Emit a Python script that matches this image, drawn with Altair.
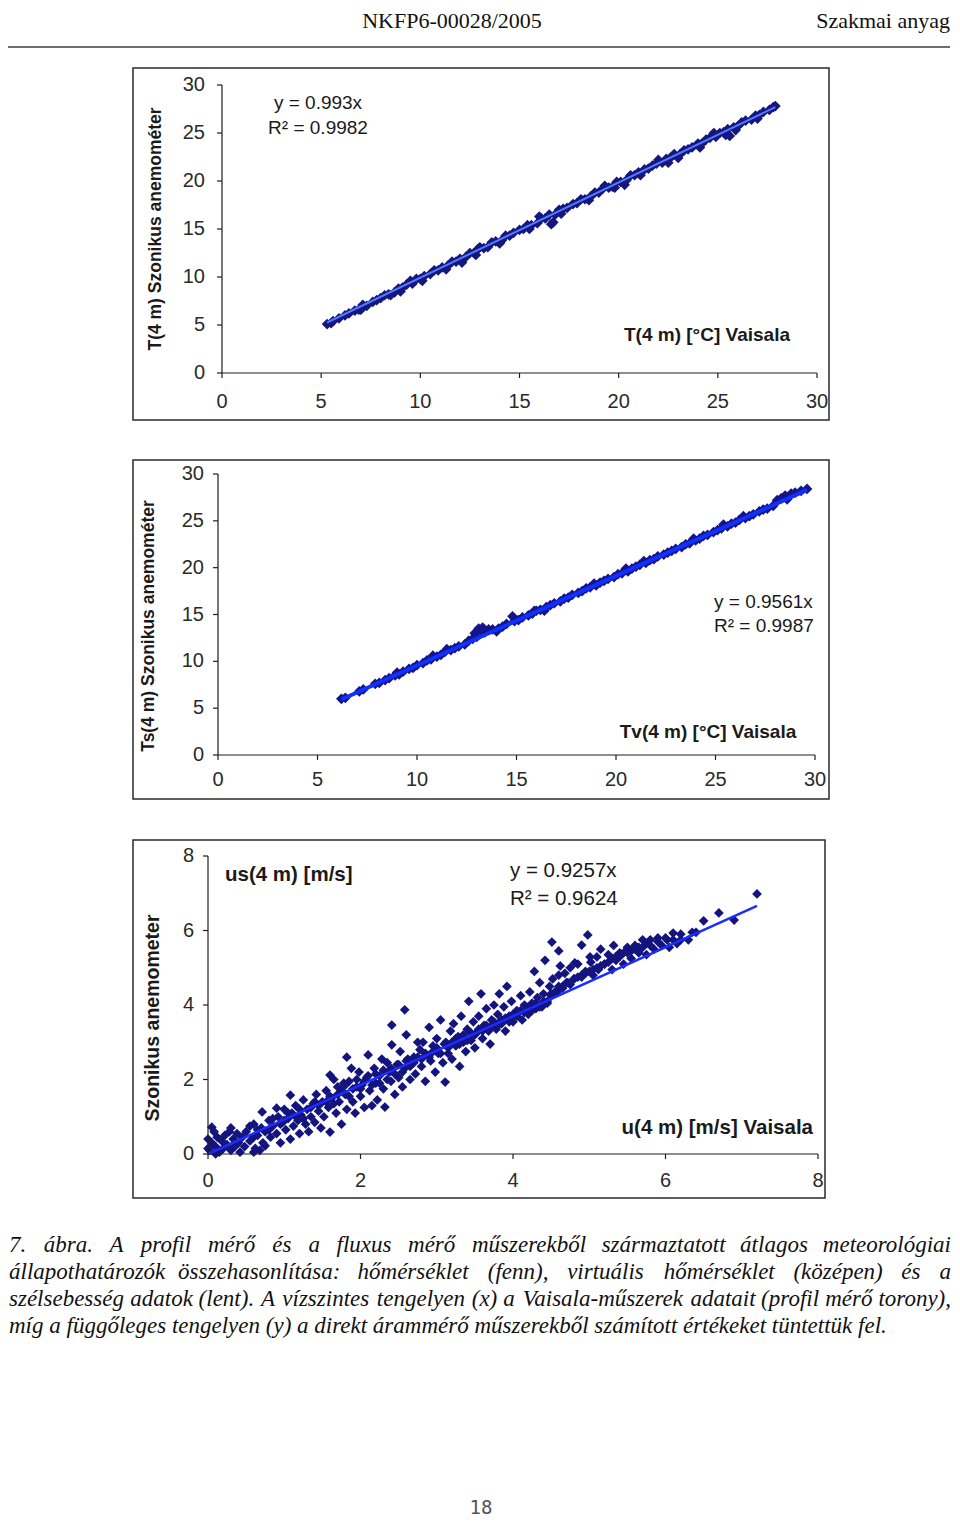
import unicodedata
import altair as alt
import pandas as pd

# ---------------- data ----------------
header_left = "NKFP6-00028/2005"
header_right = "Szakmai anyag"
page_number = "18"

temp_ticks = [0, 5, 10, 15, 20, 25, 30]
wind_ticks = [0, 2, 4, 6, 8]

# Panel 1: T(4 m) Vaisala (x) vs sonic (y)
t_pairs = [
    (5.3, 5.1), (5.5, 5.2), (5.6, 5.4), (5.9, 5.7), (6.2, 6.0), (6.4, 6.2), (6.7, 6.5), (6.9, 6.6),
    (7.1, 7.1), (7.3, 7.0), (7.6, 7.4), (7.8, 7.6), (8.0, 7.8), (8.2, 8.1), (8.4, 8.2), (8.7, 8.4),
    (8.9, 8.8), (9.0, 8.5), (9.1, 8.9), (9.3, 9.2), (9.6, 9.3), (9.8, 9.8), (10.0, 9.8), (10.2, 10.1),
    (10.5, 10.3), (10.7, 10.7), (10.9, 10.7), (11.1, 11.0), (11.4, 11.2), (11.6, 11.6), (11.8, 11.6),
    (12.0, 11.9), (12.1, 11.5), (12.3, 12.1), (12.5, 12.5), (12.7, 12.5), (12.9, 12.9), (13.2, 13.0),
    (13.4, 13.1), (13.6, 13.6), (13.8, 13.7), (14.1, 13.8), (14.3, 14.3), (14.5, 14.3), (14.7, 14.6),
    (15.0, 14.9), (15.2, 15.0), (15.4, 15.4), (15.6, 15.4), (15.9, 15.6), (16.1, 16.1), (16.3, 16.1),
    (16.5, 16.5), (16.6, 15.5), (16.7, 15.7), (16.8, 16.5), (17.0, 17.0), (17.2, 17.1), (17.4, 17.2),
    (17.7, 17.6), (17.9, 17.7), (18.1, 18.1), (18.3, 18.1), (18.6, 18.4), (18.8, 18.8), (19.0, 18.8),
    (19.2, 19.2), (19.5, 19.3), (19.7, 19.4), (19.9, 19.9), (20.1, 19.9), (20.3, 19.6), (20.4, 20.1),
    (20.6, 20.6), (20.8, 20.6), (21.0, 20.9), (21.3, 21.2), (21.5, 21.3), (21.7, 21.6), (21.9, 21.8),
    (22.2, 21.9), (22.4, 22.3), (22.6, 22.4), (22.8, 22.8), (23.0, 22.4), (23.1, 22.8), (23.3, 23.2),
    (23.5, 23.3), (23.7, 23.5), (24.0, 23.9), (24.2, 23.9), (24.4, 24.3), (24.6, 24.5), (24.9, 24.6),
    (25.1, 25.0), (25.3, 25.1), (25.4, 24.8), (25.5, 25.4), (25.6, 24.7), (25.8, 25.6), (26.0, 25.7),
    (26.2, 26.1), (26.4, 26.3), (26.7, 26.4), (26.9, 26.8), (27.1, 26.9), (27.3, 27.2), (27.6, 27.4),
    (27.8, 27.7), (27.9, 27.8),
    # scatter just below / above the main band
    (7.0, 6.6), (8.5, 8.1), (10.1, 9.6), (11.3, 10.8), (12.8, 12.3), (14.0, 13.5), (15.5, 15.0),
    (17.1, 16.6), (18.5, 18.0), (19.8, 19.3), (21.1, 20.6), (22.5, 21.9), (24.1, 23.5), (25.9, 25.3),
    (27.0, 26.5), (9.5, 9.6), (13.0, 13.1), (16.0, 16.3), (19.3, 19.5), (22.0, 22.2), (24.8, 25.0),
]
t_fit_x = [5.3, 27.9]
t_fit_y = [5.26, 27.7]

# Panel 2: Tv(4 m) Vaisala (x) vs Ts sonic (y)
tv_pairs = [
    (6.2, 6.0), (6.4, 6.1), (7.1, 6.8), (7.3, 7.0), (7.9, 7.6), (8.1, 7.7), (8.4, 8.0), (8.6, 8.2),
    (8.9, 8.5), (9.1, 8.6), (9.3, 8.9), (9.6, 9.2), (9.8, 9.3), (10.0, 9.6), (10.3, 9.8), (10.5, 10.1),
    (10.7, 10.2), (11.0, 10.5), (11.2, 10.7), (11.4, 11.0), (11.7, 11.2), (11.9, 11.4), (12.1, 11.6),
    (12.4, 11.8), (12.6, 12.2), (12.8, 12.4), (12.9, 13.0), (13.0, 12.6), (13.1, 13.5), (13.2, 13.3),
    (13.4, 13.1), (13.6, 13.4), (13.8, 13.4), (14.1, 13.5), (14.3, 13.7), (14.5, 14.0), (14.8, 14.8),
    (14.9, 14.3), (15.1, 14.4), (15.3, 14.7), (15.6, 14.9), (15.8, 15.1), (16.0, 15.4), (16.2, 15.5),
    (16.5, 15.8), (16.7, 16.0), (16.9, 16.2), (17.2, 16.4), (17.4, 16.7), (17.6, 16.8), (17.8, 17.1),
    (18.1, 17.3), (18.3, 17.5), (18.5, 17.8), (18.7, 17.9), (19.0, 18.1), (19.2, 18.4), (19.4, 18.6),
    (19.6, 18.8), (19.9, 19.0), (20.1, 19.3), (20.3, 19.4), (20.6, 19.6), (20.8, 19.9), (21.0, 20.1),
    (21.2, 20.3), (21.5, 20.5), (21.7, 20.8), (21.9, 20.9), (22.1, 21.2), (22.4, 21.4), (22.6, 21.6),
    (22.8, 21.8), (23.0, 22.0), (23.3, 22.2), (23.5, 22.5), (23.7, 22.6), (24.0, 22.9), (24.2, 23.1),
    (24.4, 23.4), (24.6, 23.5), (24.9, 23.8), (25.1, 24.0), (25.3, 24.2), (25.6, 24.4), (25.8, 24.7),
    (26.0, 24.8), (26.2, 25.1), (26.5, 25.3), (26.7, 25.5), (26.9, 25.7), (27.2, 26.0), (27.4, 26.2),
    (27.6, 26.3), (27.9, 26.6), (28.1, 27.2), (28.3, 27.4), (28.5, 27.7), (28.8, 27.9), (29.0, 28.0),
    (29.3, 28.2), (29.6, 28.4),
    # scatter just off the main band
    (9.0, 8.8), (11.5, 11.3), (14.0, 13.2), (16.4, 15.4), (18.9, 18.3), (21.4, 20.7), (23.9, 23.1),
    (26.4, 25.5), (10.8, 10.6), (13.3, 13.6), (15.9, 15.4), (20.5, 19.9), (25.4, 24.6), (28.6, 27.3),
]
tv_fit_x = [6.2, 29.6]
tv_fit_y = [5.93, 28.3]

# Panel 3: u(4 m) Vaisala (x) vs sonic wind speed (y)
u_pairs = [
    (0.02, 0.1), (0.05, 0.3), (0.08, 0.6), (0.1, 0.2), (0.12, 0.45), (0.15, 0.05), (0.18, 0.35),
    (0.2, 0.15), (0.22, 0.5), (0.25, 0.25), (0.28, 0.6), (0.3, 0.1), (0.33, 0.4), (0.35, 0.2),
    (0.38, 0.55), (0.4, 0.3), (0.42, 0.05), (0.45, 0.45), (0.48, 0.2), (0.5, 0.6), (0.05, 0.72),
    (0.0, 0.4), (0.0, 0.15), (0.1, 0.0), (0.3, 0.7), (0.6, 0.05), (0.68, 0.1), (0.75, 0.22),
    (0.55, 0.75), (0.65, 0.65),
    (0.55, 0.35), (0.6, 0.8), (0.62, 0.15), (0.65, 0.5), (0.71, 1.13), (0.72, 0.3), (0.75, 0.6),
    (0.8, 0.9), (0.82, 0.45), (0.85, 0.75), (0.9, 1.23), (0.9, 0.55), (0.92, 1.0), (0.95, 0.3),
    (0.98, 0.85), (1.0, 1.2), (1.02, 0.65), (1.05, 0.95), (1.08, 1.58), (1.08, 0.4), (1.1, 1.1),
    (1.12, 0.75), (1.15, 1.3), (1.18, 0.9), (1.2, 0.55), (1.22, 1.05), (1.25, 1.45), (1.28, 0.8),
    (1.3, 1.2), (1.32, 0.6), (1.35, 1.0), (1.38, 1.35), (1.4, 0.85), (1.42, 1.6), (1.45, 1.15),
    (1.48, 0.7), (1.5, 1.4),
    (1.52, 1.0), (1.55, 1.7), (1.58, 1.25), (1.6, 0.59), (1.6, 2.12), (1.62, 1.5), (1.65, 2.0),
    (1.68, 1.1), (1.7, 1.8), (1.72, 1.4), (1.75, 0.8), (1.78, 1.9), (1.8, 1.6), (1.82, 2.6),
    (1.82, 1.2), (1.85, 1.95), (1.88, 2.3), (1.9, 1.4), (1.93, 1.1), (1.95, 1.8), (1.98, 2.2),
    (2.0, 1.55), (2.02, 1.85), (2.05, 1.25), (2.08, 2.05), (2.1, 2.66), (2.12, 1.7), (2.15, 1.3),
    (2.18, 2.3), (2.2, 1.9), (2.22, 1.45), (2.25, 2.1), (2.28, 2.55), (2.3, 1.75), (2.32, 1.26),
    (2.35, 2.45), (2.38, 2.2), (2.4, 1.95), (2.41, 2.93), (2.41, 3.46), (2.45, 1.6), (2.48, 2.4),
    (2.5, 2.05),
    (2.52, 2.75), (2.55, 1.8), (2.58, 3.87), (2.58, 2.3), (2.6, 3.2), (2.62, 2.55), (2.65, 2.0),
    (2.7, 2.6), (2.72, 2.15), (2.75, 3.0), (2.78, 2.8), (2.8, 2.35), (2.82, 3.0), (2.85, 1.95),
    (2.88, 2.65), (2.9, 3.4), (2.92, 2.5), (2.95, 2.9), (2.98, 2.2), (3.0, 3.1), (3.02, 2.7),
    (3.05, 3.6), (3.08, 2.45), (3.11, 1.93), (3.12, 3.0), (3.15, 2.7), (3.18, 3.3), (3.2, 2.55),
    (3.22, 3.5), (3.25, 2.9), (3.28, 3.15), (3.3, 2.35), (3.32, 3.7), (3.35, 3.0), (3.38, 2.75),
    (3.4, 3.35), (3.42, 4.1), (3.45, 3.05), (3.48, 3.55), (3.5, 2.85),
    (3.52, 3.25), (3.55, 3.7), (3.58, 4.3), (3.6, 3.1), (3.62, 3.45), (3.65, 3.9), (3.68, 3.3),
    (3.7, 2.95), (3.72, 3.6), (3.75, 4.0), (3.78, 3.35), (3.8, 3.75), (3.82, 4.3), (3.85, 3.5),
    (3.88, 3.95), (3.9, 3.3), (3.92, 4.5), (3.95, 3.7), (3.98, 4.1), (4.0, 3.55), (4.05, 3.85),
    (4.1, 4.25), (4.12, 3.6), (4.15, 4.0), (4.2, 3.75), (4.22, 4.35), (4.25, 4.05), (4.28, 4.9),
    (4.3, 3.9), (4.32, 4.2), (4.35, 4.6), (4.38, 3.95), (4.4, 4.3), (4.42, 5.2), (4.45, 4.1),
    (4.48, 4.5), (4.5, 4.25),
    (4.51, 5.69), (4.52, 4.7), (4.58, 4.35), (4.6, 5.45), (4.6, 4.8), (4.62, 5.05), (4.65, 4.5),
    (4.68, 4.85), (4.72, 4.6), (4.75, 5.0), (4.8, 4.7), (4.81, 5.13), (4.85, 5.1), (4.9, 5.61),
    (4.9, 4.75), (4.95, 4.9), (4.98, 5.88), (5.01, 5.29), (5.02, 5.15), (5.05, 4.8), (5.1, 5.29),
    (5.12, 4.95), (5.15, 5.5), (5.2, 5.1), (5.25, 5.35), (5.3, 4.95), (5.32, 5.6), (5.35, 5.2),
    (5.4, 5.4), (5.45, 5.1), (5.5, 5.55),
    (5.55, 5.25), (5.6, 5.6), (5.65, 5.4), (5.7, 5.75), (5.75, 5.35), (5.8, 5.75), (5.85, 5.5),
    (5.9, 5.8), (5.95, 5.6), (6.02, 5.75), (6.05, 5.55), (6.1, 5.93), (6.15, 5.65), (6.2, 5.75),
    (6.3, 5.75), (6.4, 5.95), (6.5, 6.26), (6.7, 6.47), (6.9, 6.28), (7.2, 6.98),
    # dense core along the regression line
    (0.6, 0.45), (0.7, 0.7), (0.8, 0.65), (0.85, 0.95), (0.95, 0.8), (1.0, 0.9), (1.05, 1.1),
    (1.15, 1.0), (1.2, 1.2), (1.25, 0.95), (1.35, 1.25), (1.4, 1.4), (1.45, 1.3), (1.55, 1.4),
    (1.6, 1.55), (1.65, 1.35), (1.7, 1.6), (1.75, 1.7), (1.8, 1.85), (1.85, 1.55), (1.9, 1.75),
    (1.95, 2.0), (2.0, 1.75), (2.05, 1.95), (2.1, 2.1), (2.15, 1.85), (2.2, 2.15), (2.25, 1.9),
    (2.3, 2.25), (2.35, 2.0), (2.4, 2.3), (2.45, 2.15), (2.5, 2.4), (2.55, 2.2), (2.6, 2.5),
    (2.65, 2.35), (2.7, 2.45), (2.75, 2.6), (2.8, 2.55), (2.85, 2.7), (2.9, 2.6), (2.95, 2.75),
    (3.0, 2.85), (3.05, 2.7), (3.1, 2.95), (3.15, 2.85), (3.2, 3.0), (3.25, 3.1), (3.3, 2.95),
    (3.35, 3.2), (3.4, 3.05), (3.45, 3.25), (3.5, 3.2), (3.55, 3.35), (3.6, 3.3), (3.65, 3.45),
    (3.7, 3.4), (3.75, 3.55), (3.8, 3.45), (3.85, 3.6), (3.9, 3.65), (3.95, 3.55), (4.0, 3.75),
    (4.05, 3.7), (4.1, 3.85), (4.15, 3.8), (4.2, 3.95), (4.25, 3.85), (4.3, 4.05), (4.35, 3.95),
    (4.4, 4.1), (4.45, 4.05), (4.5, 4.3), (4.55, 4.35), (4.6, 4.5), (4.65, 4.45), (4.7, 4.6),
    (4.75, 4.55), (4.8, 4.7), (4.85, 4.75), (4.9, 4.8), (4.95, 4.85), (5.0, 4.9), (5.05, 4.95),
    (5.1, 5.0), (5.15, 5.05), (5.2, 5.1), (5.25, 5.15), (5.3, 5.25), (5.35, 5.3), (5.4, 5.3),
    (5.45, 5.4), (5.5, 5.4), (5.55, 5.45), (5.6, 5.5), (5.65, 5.55), (5.7, 5.55), (5.75, 5.65),
    (5.8, 5.6), (5.9, 5.7), (6.0, 5.8), (6.1, 5.75), (6.2, 5.9), (6.35, 5.95),
]
u_fit_x = [0.0, 7.2]
u_fit_y = [0.0, 6.66]

caption_lines = [
    "7. ábra. A profil mérő és a fluxus mérő műszerekből származtatott átlagos meteorológiai",
    "állapothatározók összehasonlítása: hőmérséklet (fenn), virtuális hőmérséklet (középen) és a",
    "szélsebesség adatok (lent). A vízszintes tengelyen (x) a Vaisala-műszerek adatait (profil mérő torony),",
    "míg a függőleges tengelyen (y) a direkt árammérő műszerekből számított értékeket tüntettük fel.",
]

# ---------------- layout helpers ----------------
M = 8  # page margin of the html page
AX = "#1e1e1e"
SANS = "Liberation Sans"
SERIF = "Liberation Serif"


def pg(v):
    return v - M


def one():
    return pd.DataFrame({"k": [0]})


def txt(text, x, y, size, weight="normal", align="center", font=SANS,
        color="#1a1a1a", angle=0, style="normal"):
    return alt.Chart(one()).mark_text(
        text=text, fontSize=size, fontWeight=weight, align=align, font=font,
        color=color, angle=angle, fontStyle=style, baseline="middle"
    ).encode(x=alt.value(pg(x)), y=alt.value(pg(y)))


def box(x0, y0, x1, y1):
    return alt.Chart(one()).mark_rect(
        fill="white", fillOpacity=0, stroke="#2a2a2a", strokeWidth=1.5
    ).encode(x=alt.value(pg(x0)), x2=alt.value(pg(x1)),
             y=alt.value(pg(y0)), y2=alt.value(pg(y1)))


def panel(pairs, fx, fy, ticks, xr, yr, size, pcolor, lcolor, lwidth,
          xlab_dy, ylab_dx, label_size):
    dom = [ticks[0], ticks[-1]]
    xs = alt.Scale(domain=dom, range=[pg(xr[0]), pg(xr[1])], nice=False, zero=False)
    ys = alt.Scale(domain=dom, range=[pg(yr[0]), pg(yr[1])], nice=False, zero=False)

    def X(f):
        return alt.X(f, type="quantitative", scale=xs, axis=None)

    def Y(f):
        return alt.Y(f, type="quantitative", scale=ys, axis=None)

    pts_df = pd.DataFrame({"x": [p[0] for p in pairs], "y": [p[1] for p in pairs]})
    pts = alt.Chart(pts_df).mark_point(
        shape="diamond", filled=True, size=size, color=pcolor, opacity=1
    ).encode(x=X("x"), y=Y("y"))
    fit = alt.Chart(pd.DataFrame({"x": fx, "y": fy})).mark_line(
        color=lcolor, strokeWidth=lwidth
    ).encode(x=X("x"), y=Y("y"))

    ax_df = pd.DataFrame({"a": [dom[0]], "b": [dom[1]]})
    xline = alt.Chart(ax_df).mark_rule(color=AX, strokeWidth=1.2).encode(
        x=X("a"), x2="b:Q", y=Y("a"))
    yline = alt.Chart(ax_df).mark_rule(color=AX, strokeWidth=1.2).encode(
        x=X("a"), y=Y("a"), y2="b:Q")

    tk = pd.DataFrame({"v": ticks, "z": [dom[0]] * len(ticks),
                       "t": [str(t) for t in ticks]})
    xt = alt.Chart(tk).mark_rule(color=AX, strokeWidth=1.2, y2Offset=5).encode(
        x=X("v"), y=Y("z"), y2="z:Q")
    yt = alt.Chart(tk).mark_rule(color=AX, strokeWidth=1.2, x2Offset=-5).encode(
        x=X("z"), x2="z:Q", y=Y("v"))
    xl = alt.Chart(tk).mark_text(
        dy=xlab_dy, align="center", baseline="middle", font=SANS,
        fontSize=label_size, color="#2a2a2a"
    ).encode(x=X("v"), y=Y("z"), text="t:N")
    yl = alt.Chart(tk).mark_text(
        dx=ylab_dx, align="right", baseline="middle", font=SANS,
        fontSize=label_size, color="#2a2a2a"
    ).encode(x=X("z"), y=Y("v"), text="t:N")
    return alt.layer(pts, fit, xline, yline, xt, yt, xl, yl)


# ---------------- header ----------------
header = alt.layer(
    txt(header_left, 452, 21, 22, font=SERIF, color="#111"),
    txt(header_right, 950, 21, 22, font=SERIF, color="#111", align="right"),
    alt.Chart(one()).mark_rule(color="#6e6e6e", strokeWidth=2).encode(
        x=alt.value(pg(8)), x2=alt.value(pg(950)), y=alt.value(pg(47))),
)

# ---------------- panels ----------------
p1 = alt.layer(
    box(133, 68, 829, 420),
    panel(t_pairs, t_fit_x, t_fit_y, temp_ticks, [222, 817], [373, 85], 115,
          "#16167e", "#4f7cff", 2, 29, -17, 20),
    txt("y = 0.993x", 318, 103, 19),
    txt("R² = 0.9982", 318, 128, 19),
    txt("T(4 m) [°C] Vaisala", 707, 335, 19, weight="bold"),
    txt("T(4 m) Szonikus anemométer", 156, 229, 17.5, weight="bold", angle=270),
)

p2 = alt.layer(
    box(133, 460, 829, 799),
    panel(tv_pairs, tv_fit_x, tv_fit_y, temp_ticks, [218, 815], [755, 474], 115,
          "#15158a", "#1030ff", 4, 25, -14, 20),
    txt("y = 0.9561x", 714, 602, 19, align="left"),
    txt("R² = 0.9987", 714, 626, 19, align="left"),
    txt("Tv(4 m) [°C] Vaisala", 708, 732, 19, weight="bold"),
    txt("Ts(4 m) Szonikus anemométer", 149, 626, 17.5, weight="bold", angle=270),
)

p3 = alt.layer(
    box(133, 840, 825, 1198),
    panel(u_pairs, u_fit_x, u_fit_y, wind_ticks, [208, 818], [1154, 856], 95,
          "#14147e", "#1a2cff", 2.5, 27, -14, 20),
    txt("us(4 m) [m/s]", 225, 875, 20.5, weight="bold", align="left"),
    txt("y = 0.9257x", 510, 871, 20.5, align="left"),
    txt("R² = 0.9624", 510, 899, 20.5, align="left"),
    txt("u(4 m) [m/s] Vaisala", 813, 1128, 20.5, weight="bold", align="right"),
    txt("Szonikus anemometer", 153, 1018, 19.5, weight="bold", angle=270),
)

# ---------------- caption (justified lines) ----------------
CAP_SIZE = 23
NARROW = set("fijlt.,:;()'!|")
MID = set("rsz-")
WIDE = set("mw")


def est_width(word):
    w = 0.0
    for ch in word:
        base = unicodedata.normalize("NFD", ch)[0]
        if base in NARROW:
            w += 0.29
        elif base in MID:
            w += 0.38
        elif base in WIDE:
            w += 0.70
        elif base.isupper():
            w += 0.62
        elif base.isdigit():
            w += 0.5
        else:
            w += 0.47
    return w * CAP_SIZE


cap_rows = []
left, right = 9, 951
for i, line in enumerate(caption_lines):
    y = 1245 + 27 * i
    if i == len(caption_lines) - 1:
        cap_rows.append({"w": line, "x": pg(left), "y": pg(y), "al": "left"})
        continue
    words = line.split(" ")
    widths = [est_width(w) for w in words]
    gap = (right - left - sum(widths)) / (len(words) - 1)
    x = left
    for j, (w, wd) in enumerate(zip(words, widths)):
        if j == 0:
            cap_rows.append({"w": w, "x": pg(left), "y": pg(y), "al": "left"})
        elif j == len(words) - 1:
            cap_rows.append({"w": w, "x": pg(right), "y": pg(y), "al": "right"})
        else:
            cap_rows.append({"w": w, "x": pg(x + wd / 2), "y": pg(y), "al": "center"})
        x += wd + gap
cap_df = pd.DataFrame(cap_rows)


def cap_layer(al):
    return alt.Chart(cap_df[cap_df["al"] == al]).mark_text(
        align=al, baseline="middle", font=SERIF, fontStyle="italic",
        fontSize=CAP_SIZE, color="#111"
    ).encode(x=alt.X("x:Q", scale=None), y=alt.Y("y:Q", scale=None), text="w:N")


caption = alt.layer(cap_layer("left"), cap_layer("center"), cap_layer("right"))

footer = txt(page_number, 481, 1508, 19, font="DejaVu Sans Mono", color="#555")

chart = alt.layer(header, p1, p2, p3, caption, footer).resolve_scale(
    x="independent", y="independent"
).properties(
    width=944, height=1511, autosize="none", padding=0, background="white"
).configure_view(strokeWidth=0)

chart.save("out.html", embed_options={"renderer": "svg", "actions": False})
